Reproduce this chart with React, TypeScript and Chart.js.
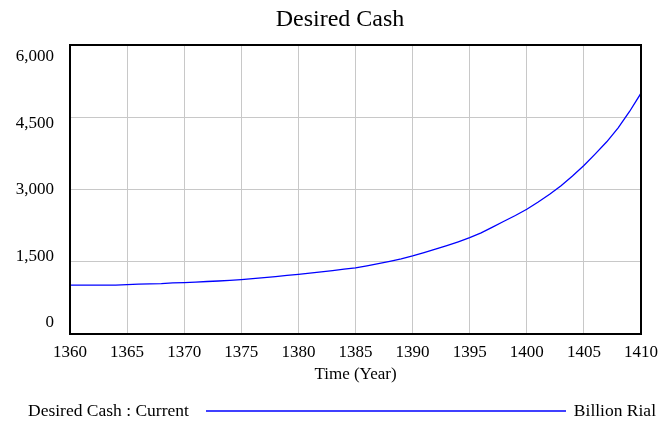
import React, { useEffect, useRef } from "react";
import { Chart, registerables } from "chart.js";

Chart.register(...registerables);

const years = [
  1360, 1361, 1362, 1363, 1364, 1365, 1366, 1367, 1368, 1369,
  1370, 1371, 1372, 1373, 1374, 1375, 1376, 1377, 1378, 1379,
  1380, 1381, 1382, 1383, 1384, 1385, 1386, 1387, 1388, 1389,
  1390, 1391, 1392, 1393, 1394, 1395, 1396, 1397, 1398, 1399,
  1400, 1401, 1402, 1403, 1404, 1405, 1406, 1407, 1408, 1409,
  1410,
];

const desiredCash = [
  1015, 1015, 1015, 1015, 1015, 1025, 1035, 1040, 1045, 1060,
  1065, 1075, 1090, 1100, 1115, 1130, 1150, 1170, 1190, 1215,
  1240, 1265, 1290, 1315, 1345, 1375, 1415, 1460, 1510, 1560,
  1620, 1690, 1760, 1835, 1915, 2000, 2100, 2220, 2340, 2460,
  2590, 2740, 2900, 3080, 3280, 3500, 3740, 3990, 4280, 4620,
  5000,
];

const yTickValues = [0, 1500, 3000, 4500, 6000];
const xTickStep = 5;

const chartTitle = "Desired Cash";
const xAxisTitle = "Time (Year)";
const legendLabel = "Desired Cash : Current";
const legendUnit = "Billion Rial";

const FAMILY = '"Liberation Serif", "Times New Roman", serif';

export default function App() {
  const ref = useRef<HTMLCanvasElement | null>(null);

  useEffect(() => {
    if (!ref.current) return;

    const framePlugin = {
      id: "frame",
      afterDraw(chart: any) {
        const { ctx, chartArea } = chart;
        ctx.save();
        ctx.strokeStyle = "#000";
        ctx.lineWidth = 2;
        ctx.strokeRect(
          chartArea.left,
          chartArea.top,
          chartArea.right - chartArea.left,
          chartArea.bottom - chartArea.top
        );
        ctx.restore();
      },
    };

    const textPlugin = {
      id: "vtext",
      afterDraw(chart: any) {
        const { ctx } = chart;
        ctx.save();
        ctx.fillStyle = "#000";
        ctx.textBaseline = "middle";
        // title
        ctx.font = `24px ${FAMILY}`;
        ctx.textAlign = "center";
        ctx.fillText(chartTitle, 340, 20);
        // legend
        const y = 411;
        ctx.font = `17.5px ${FAMILY}`;
        ctx.textAlign = "left";
        ctx.fillText(legendLabel, 28, y);
        ctx.textAlign = "right";
        ctx.fillText(legendUnit, 656, y);
        ctx.strokeStyle = "#0000ff";
        ctx.lineWidth = 1.5;
        ctx.beginPath();
        ctx.moveTo(206, y);
        ctx.lineTo(566, y);
        ctx.stroke();
        ctx.restore();
      },
    };

    const chart = new Chart(ref.current, {
      type: "line",
      data: {
        datasets: [
          {
            label: legendLabel,
            data: years.map((yr, i) => ({ x: yr, y: desiredCash[i] })),
            borderColor: "#0000ff",
            borderWidth: 1.3,
            pointRadius: 0,
            tension: 0,
            fill: false,
            yAxisID: "y",
          },
        ],
      },
      options: {
        animation: false,
        responsive: false,
        layout: { padding: { left: 0, right: 21, top: 45, bottom: 42 } },
        plugins: {
          legend: { display: false },
          tooltip: { enabled: false },
          title: { display: false },
        },
        scales: {
          x: {
            type: "linear",
            min: years[0],
            max: years[years.length - 1],
            ticks: {
              stepSize: xTickStep,
              color: "#000",
              font: { family: FAMILY, size: 17 },
              padding: 8,
              maxRotation: 0,
              callback: (v: any) => String(v),
            },
            grid: { color: "#c8c8c8", lineWidth: 1, drawTicks: false },
            border: { display: false },
            title: {
              display: true,
              text: xAxisTitle,
              color: "#000",
              font: { family: FAMILY, size: 17 },
              padding: { top: 3, bottom: 0 },
            },
            afterFit: (s: any) => {
              s.height = 51;
              s.paddingLeft = 0;
              s.paddingRight = 0;
            },
          },
          y: {
            position: "left",
            min: yTickValues[0],
            max: yTickValues[yTickValues.length - 1],
            ticks: { display: false, stepSize: 1500 },
            grid: { color: "#c8c8c8", lineWidth: 1, drawTicks: false },
            border: { display: false },
            afterFit: (s: any) => {
              s.width = 0;
              s.paddingTop = 0;
              s.paddingBottom = 0;
            },
          },
          y2: {
            position: "left",
            min: -248,
            max: 6263,
            grid: { display: false, drawTicks: false },
            border: { display: false },
            ticks: {
              color: "#000",
              font: { family: FAMILY, size: 17 },
              padding: 16,
              callback: (v: any) => Number(v).toLocaleString("en-US"),
            },
            afterBuildTicks: (s: any) => {
              s.ticks = yTickValues.map((v) => ({ value: v }));
            },
            afterFit: (s: any) => {
              s.width = 70;
              s.paddingTop = 0;
              s.paddingBottom = 0;
            },
          },
        },
      } as any,
      plugins: [framePlugin, textPlugin],
    });

    return () => chart.destroy();
  }, []);

  return (
    <div style={{ position: "absolute", left: 0, top: 0, width: 662, height: 427 }}>
      <canvas ref={ref} width={662} height={427} />
    </div>
  );
}
